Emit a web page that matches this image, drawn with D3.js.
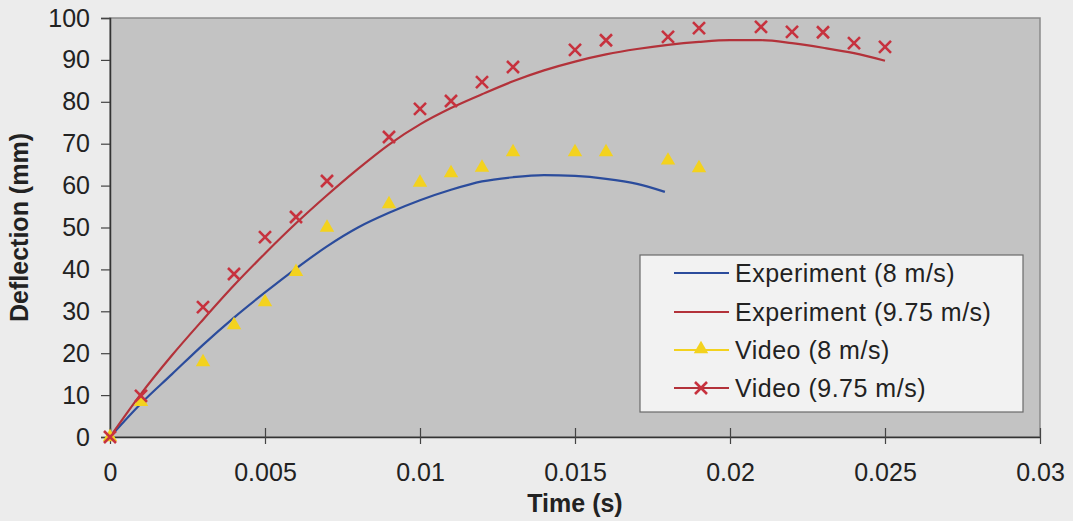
<!DOCTYPE html>
<html>
<head>
<meta charset="utf-8">
<script src="https://cdn.jsdelivr.net/npm/d3@7"></script>
<style>
  body { margin: 0; background: #ececec; }
  svg { display: block; font-family: "Liberation Sans", Arial, sans-serif; }
</style>
</head>
<body>
<div id="chart"></div>
<script>
// Experiment curves (time in s, deflection in mm)
const exp8T = [0, 0.001, 0.002, 0.003, 0.004, 0.005, 0.006, 0.007, 0.008, 0.009, 0.010, 0.011, 0.012, 0.013, 0.014, 0.015, 0.016, 0.017, 0.0179];
const exp8Y = [0, 8, 15, 22, 28.5, 34.5, 40.2, 45.5, 50, 53.5, 56.5, 59, 61, 62, 62.5, 62.3, 61.6, 60.4, 58.5];

const exp975T = [0, 0.001, 0.002, 0.003, 0.004, 0.005, 0.006, 0.007, 0.008, 0.009, 0.010, 0.011, 0.012, 0.013, 0.014, 0.015, 0.016, 0.017, 0.018, 0.019, 0.020, 0.021, 0.022, 0.023, 0.024, 0.025];
const exp975Y = [0, 10.3, 19.5, 28, 36.2, 43.8, 51, 57.7, 64, 69.8, 74.6, 78.5, 81.8, 84.9, 87.5, 89.6, 91.3, 92.6, 93.6, 94.3, 94.7, 94.7, 94, 92.9, 91.6, 89.8];

// Video measurements
const vid8T = [0, 0.001, 0.003, 0.004, 0.005, 0.006, 0.007, 0.009, 0.010, 0.011, 0.012, 0.013, 0.015, 0.016, 0.018, 0.019];
const vid8Y = [0, 8.4, 17.9, 26.7, 32.2, 39.4, 50, 55.6, 60.7, 63, 64.3, 68, 68, 68, 66, 64.2];

const vid975T = [0, 0.001, 0.003, 0.004, 0.005, 0.006, 0.007, 0.009, 0.010, 0.011, 0.012, 0.013, 0.015, 0.016, 0.018, 0.019, 0.021, 0.022, 0.023, 0.024, 0.025];
const vid975Y = [0, 9.8, 31, 38.9, 47.7, 52.5, 61.1, 71.6, 78.3, 80.2, 84.7, 88.3, 92.4, 94.7, 95.5, 97.6, 97.9, 96.7, 96.6, 94, 93.1];

const xTicks = [0, 0.005, 0.01, 0.015, 0.02, 0.025, 0.03];
const yTicks = [0, 10, 20, 30, 40, 50, 60, 70, 80, 90, 100];
const legendLabels = ["Experiment (8 m/s)", "Experiment (9.75 m/s)", "Video (8 m/s)", "Video (9.75 m/s)"];

const width = 1073, height = 521;
const plotL = 110, plotR = 1040, plotT = 18, plotB = 437;
const blue = "#2b4c9c", red = "#b3323a", yellow = "#f3d21e", redX = "#c7323e";

const svg = d3.select("#chart").append("svg")
    .attr("width", width)
    .attr("height", height);

svg.append("rect").attr("width", width).attr("height", height).attr("fill", "#ececec");

const x = d3.scaleLinear().domain([0, 0.03]).range([plotL, plotR]);
const y = d3.scaleLinear().domain([0, 100]).range([plotB, plotT]);

// plot area
svg.append("rect")
    .attr("x", plotL).attr("y", plotT)
    .attr("width", plotR - plotL).attr("height", plotB - plotT)
    .attr("fill", "#c3c3c3")
    .attr("stroke", "#8a8a8a")
    .attr("stroke-width", 1.5);

// y axis
const yAxis = svg.append("g")
    .attr("transform", `translate(${plotL},0)`)
    .call(d3.axisLeft(y).tickValues(yTicks).tickSize(9).tickPadding(11).tickFormat(d3.format("d")));
yAxis.select(".domain").attr("stroke", "#333").attr("stroke-width", 1.5);
yAxis.selectAll(".tick line").attr("stroke", "#444").attr("stroke-width", 1.2);
yAxis.selectAll("text").attr("font-size", 25).attr("fill", "#222")
    .attr("font-family", "Liberation Sans, Arial, sans-serif");

// x axis (cross ticks)
const xAxis = svg.append("g")
    .attr("transform", `translate(0,${plotB})`)
    .call(d3.axisBottom(x).tickValues(xTicks).tickSizeInner(7).tickSizeOuter(0).tickPadding(19)
        .tickFormat(d => d === 0 ? "0" : String(+d.toFixed(3))));
xAxis.select(".domain").attr("stroke", "#333").attr("stroke-width", 1.5);
xAxis.selectAll(".tick line").attr("y1", -9).attr("stroke", "#444").attr("stroke-width", 1.2);
xAxis.selectAll("text").attr("font-size", 25).attr("fill", "#222")
    .attr("font-family", "Liberation Sans, Arial, sans-serif");

// axis titles
svg.append("text")
    .attr("x", (plotL + plotR) / 2).attr("y", 512)
    .attr("text-anchor", "middle")
    .attr("font-size", 25).attr("font-weight", "bold").attr("fill", "#222")
    .text("Time (s)");

svg.append("text")
    .attr("transform", `translate(28,${(plotT + plotB) / 2}) rotate(-90)`)
    .attr("text-anchor", "middle")
    .attr("font-size", 25).attr("font-weight", "bold").attr("fill", "#222")
    .text("Deflection (mm)");

// curves
const line = d3.line().x(d => x(d[0])).y(d => y(d[1])).curve(d3.curveMonotoneX);
svg.append("path")
    .datum(d3.zip(exp8T, exp8Y))
    .attr("d", line).attr("fill", "none").attr("stroke", blue).attr("stroke-width", 2.2);
svg.append("path")
    .datum(d3.zip(exp975T, exp975Y))
    .attr("d", line).attr("fill", "none").attr("stroke", red).attr("stroke-width", 2.2);

// markers
const tri = d3.symbol().type(d3.symbolTriangle).size(90);
function crossPath(s) {
    return `M${-s},${-s}L${s},${s}M${-s},${s}L${s},${-s}`;
}

svg.append("g").selectAll("path")
    .data(d3.zip(vid8T, vid8Y))
    .join("path")
    .attr("transform", d => `translate(${x(d[0])},${y(d[1])})`)
    .attr("d", tri)
    .attr("fill", yellow);

svg.append("g").selectAll("path")
    .data(d3.zip(vid975T, vid975Y))
    .join("path")
    .attr("transform", d => `translate(${x(d[0])},${y(d[1])})`)
    .attr("d", crossPath(6))
    .attr("fill", "none")
    .attr("stroke", redX)
    .attr("stroke-width", 2.6);

// legend
const lg = svg.append("g");
lg.append("rect")
    .attr("x", 640).attr("y", 255).attr("width", 383).attr("height", 157)
    .attr("fill", "#f2f2f2").attr("stroke", "#6a6a6a").attr("stroke-width", 1.2);

const rowY = [273, 312, 350, 388];
const rowColor = [blue, red, yellow, redX];
legendLabels.forEach((lab, i) => {
    lg.append("line")
        .attr("x1", 674).attr("x2", 729).attr("y1", rowY[i]).attr("y2", rowY[i])
        .attr("stroke", i === 3 ? red : rowColor[i]).attr("stroke-width", 2);
    if (i === 2) {
        lg.append("path").attr("transform", `translate(701,${rowY[i] - 1})`)
            .attr("d", tri).attr("fill", yellow);
    }
    if (i === 3) {
        lg.append("path").attr("transform", `translate(701,${rowY[i]})`)
            .attr("d", crossPath(6)).attr("fill", "none")
            .attr("stroke", redX).attr("stroke-width", 2.6);
    }
    lg.append("text")
        .attr("x", 735).attr("y", rowY[i])
        .attr("dy", "0.35em")
        .attr("font-size", 25).attr("letter-spacing", 0.5).attr("fill", "#222")
        .text(lab);
});
</script>
</body>
</html>
